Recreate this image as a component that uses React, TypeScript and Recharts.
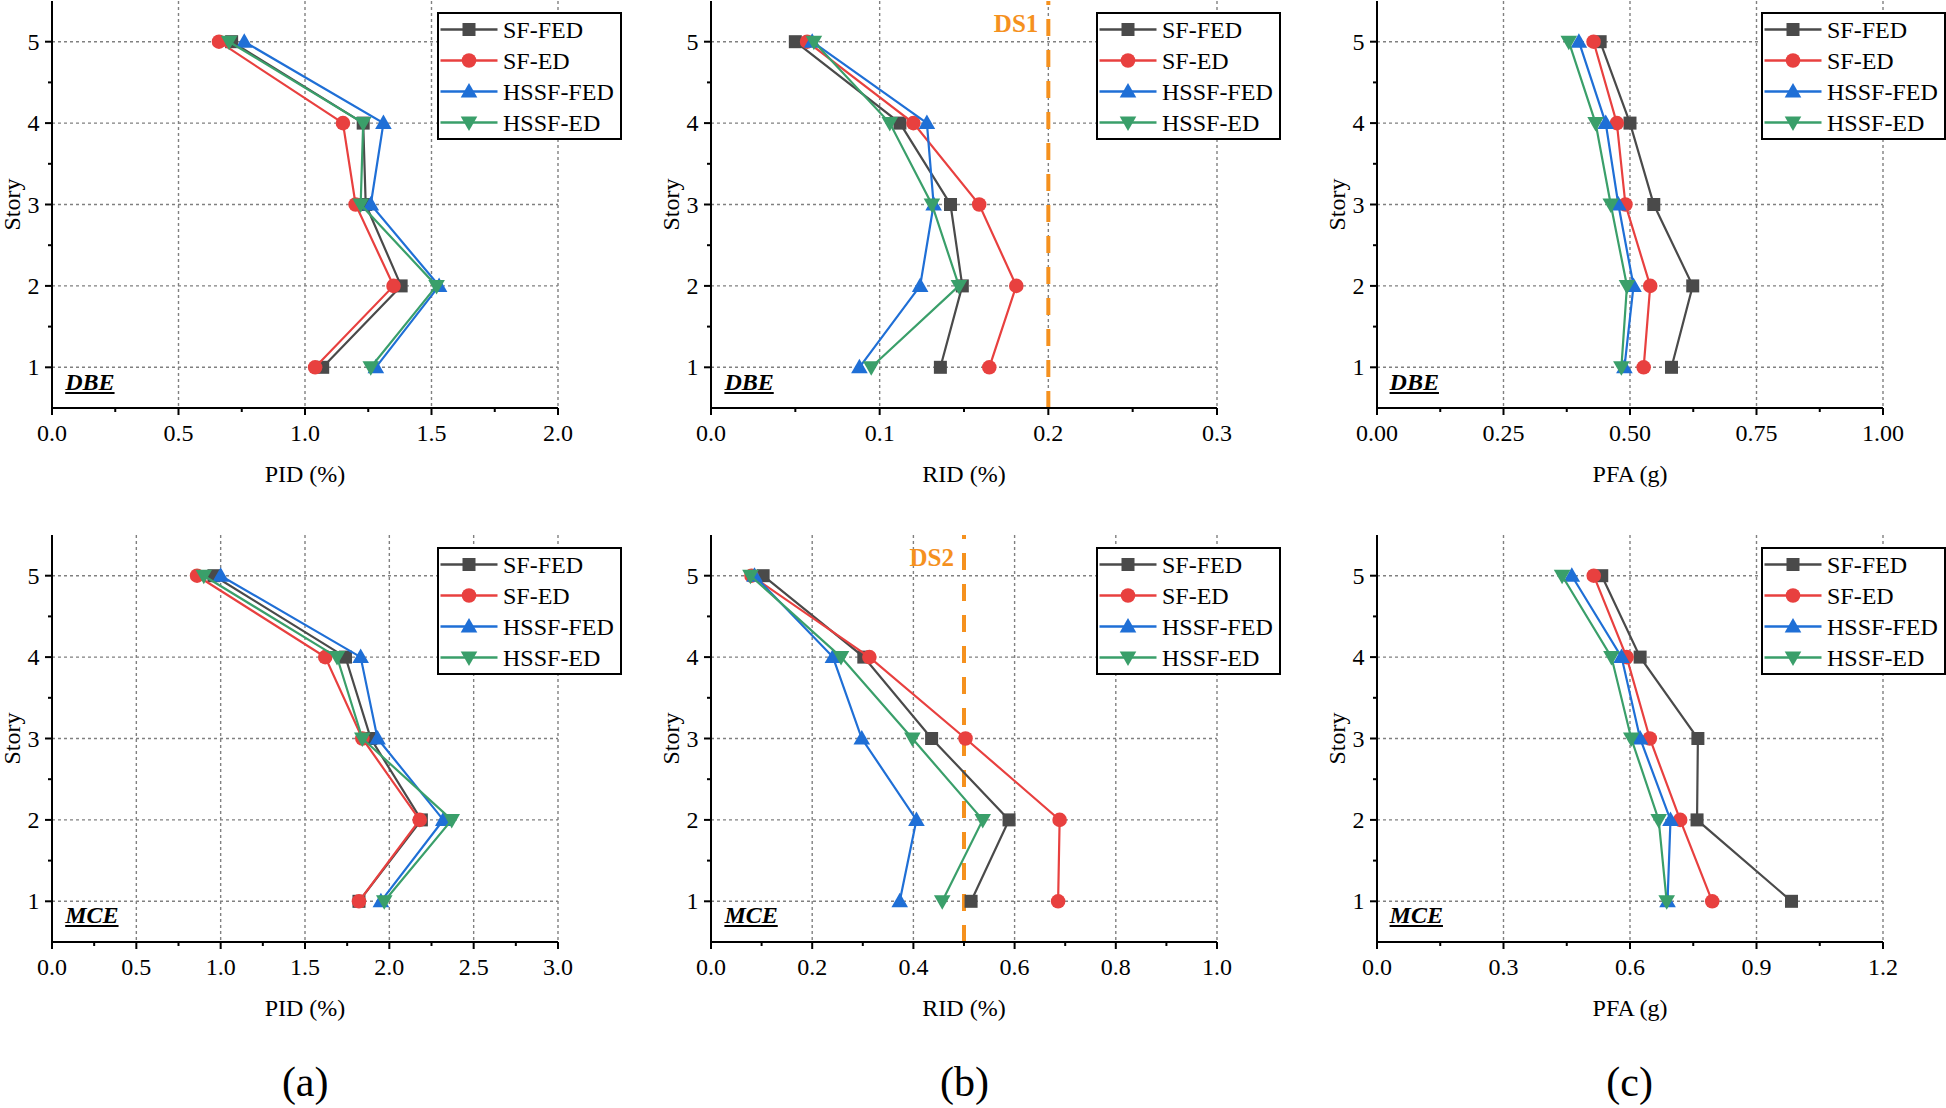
import React from 'react';
import { ScatterChart, Scatter, XAxis, YAxis, CartesianGrid, ReferenceLine, Legend, Label } from 'recharts';

const FONT = "'Liberation Serif', 'Times New Roman', serif";

const stories = [1, 2, 3, 4, 5];
const storyTicks = [1, 1.5, 2, 2.5, 3, 3.5, 4, 4.5, 5];
const seriesNames = ['SF-FED', 'SF-ED', 'HSSF-FED', 'HSSF-ED'];
const seriesColors = ['#4a4a4a', '#e8403f', '#1f6fd6', '#3a9f6a'];
const seriesMarkers = ['square', 'circle', 'triangle', 'triangleDown'];

// rows: SF-FED, SF-ED, HSSF-FED, HSSF-ED ; values for story 1..5
const pidDbe = [
  [1.07, 1.38, 1.24, 1.23, 0.71],
  [1.04, 1.35, 1.2, 1.15, 0.66],
  [1.28, 1.53, 1.26, 1.31, 0.76],
  [1.26, 1.52, 1.22, 1.23, 0.7],
];
const ridDbe = [
  [0.136, 0.149, 0.142, 0.112, 0.05],
  [0.165, 0.181, 0.159, 0.12, 0.057],
  [0.088, 0.124, 0.132, 0.128, 0.06],
  [0.095, 0.147, 0.131, 0.106, 0.061],
];
const pfaDbe = [
  [0.582, 0.624, 0.547, 0.5, 0.441],
  [0.527, 0.54, 0.491, 0.474, 0.428],
  [0.489, 0.507, 0.477, 0.452, 0.399],
  [0.483, 0.494, 0.462, 0.432, 0.379],
];
const pidMce = [
  [1.82, 2.19, 1.89, 1.74, 0.96],
  [1.82, 2.18, 1.84, 1.62, 0.86],
  [1.95, 2.32, 1.93, 1.83, 1.0],
  [1.97, 2.37, 1.84, 1.69, 0.9],
];
const ridMce = [
  [0.514, 0.589, 0.436, 0.302, 0.103],
  [0.686, 0.689, 0.503, 0.313, 0.08],
  [0.373, 0.406, 0.298, 0.241, 0.086],
  [0.457, 0.537, 0.398, 0.257, 0.078],
];
const pfaMce = [
  [0.983, 0.759, 0.761, 0.624, 0.533],
  [0.795, 0.719, 0.647, 0.592, 0.514],
  [0.689, 0.696, 0.624, 0.58, 0.462],
  [0.687, 0.668, 0.603, 0.556, 0.439],
];

const pidDbeTicks = [0, 0.5, 1.0, 1.5, 2.0];
const ridDbeTicks = [0, 0.1, 0.2, 0.3];
const pfaDbeTicks = [0, 0.25, 0.5, 0.75, 1.0];
const pidMceTicks = [0, 0.5, 1.0, 1.5, 2.0, 2.5, 3.0];
const ridMceTicks = [0, 0.2, 0.4, 0.6, 0.8, 1.0];
const pfaMceTicks = [0, 0.3, 0.6, 0.9, 1.2];

const colPlotLeft = [52.2, 711.4, 1376.6];
const rowPlotTop = [0.5, 535.3];

function Marker({ kind, cx, cy, color }: { kind: string; cx: number; cy: number; color: string }) {
  if (kind === 'square') return <rect x={cx - 6.5} y={cy - 6.5} width={13} height={13} fill={color} />;
  if (kind === 'circle') return <circle cx={cx} cy={cy} r={7.3} fill={color} />;
  if (kind === 'triangle')
    return <polygon points={`${cx},${cy - 8.5} ${cx + 8.3},${cy + 6} ${cx - 8.3},${cy + 6}`} fill={color} />;
  return <polygon points={`${cx - 8.3},${cy - 6} ${cx + 8.3},${cy - 6} ${cx},${cy + 8.5}`} fill={color} />;
}

const LegendBox = () => (
  <div style={{ width: 185, height: 128, border: '2px solid #000', background: '#fff', boxSizing: 'border-box' }}>
    <svg width={181} height={124} style={{ display: 'block' }}>
      {seriesNames.map((n, i) => {
        const y = 15.5 + i * 31;
        return (
          <g key={n}>
            <line x1={1.5} x2={58.5} y1={y} y2={y} stroke={seriesColors[i]} strokeWidth={2.5} />
            <Marker kind={seriesMarkers[i]} cx={30} cy={y} color={seriesColors[i]} />
            <text x={64} y={y + 8.5} fontSize={24} fontFamily={FONT} fill="#000">
              {n}
            </text>
          </g>
        );
      })}
    </svg>
  </div>
);

type PanelProps = {
  col: number;
  row: number;
  values: number[][];
  xTicks: number[];
  decimals: number;
  xTitle: string;
  tag: string;
  ds?: { x: number; label: string };
};

function Panel({ col, row, values, xTicks, decimals, xTitle, tag, ds }: PanelProps) {
  const PL = 100, PT = 10, PW = 506, PH = 407;
  const W = PL + PW + 100;
  const H = PT + PH + 100;
  const left = colPlotLeft[col] - PL;
  const top = rowPlotTop[row] - PT;
  const xMax = xTicks[xTicks.length - 1];
  const xMinor = xTicks.slice(1).map((v, i) => (v + xTicks[i]) / 2);
  const xAll = [...xTicks, ...xMinor].sort((a, b) => a - b);
  const isMajorX = (v: number) => xTicks.some((t) => Math.abs(t - v) < 1e-9);
  const isMajorY = (v: number) => stories.includes(v);

  const BottomTick = (p: any) => {
    const major = isMajorX(p.payload.value);
    return (
      <g>
        <line x1={p.x} x2={p.x} y1={p.y} y2={p.y + (major ? 7 : 4)} stroke="#000" strokeWidth={2} />
        {major && (
          <text x={p.x} y={p.y + 33} textAnchor="middle" fontSize={24} fontFamily={FONT} fill="#000">
            {p.payload.value.toFixed(decimals)}
          </text>
        )}
      </g>
    );
  };
  const TopTick = (p: any) => {
    const major = isMajorX(p.payload.value);
    return <line x1={p.x} x2={p.x} y1={p.y} y2={p.y + (major ? 7 : 4)} stroke="#000" strokeWidth={2} />;
  };
  const LeftTick = (p: any) => {
    const major = isMajorY(p.payload.value);
    return (
      <g>
        <line x1={p.x - (major ? 7 : 4)} x2={p.x} y1={p.y} y2={p.y} stroke="#000" strokeWidth={2} />
        {major && (
          <text x={p.x - 12.5} y={p.y + 8} textAnchor="end" fontSize={24} fontFamily={FONT} fill="#000">
            {p.payload.value}
          </text>
        )}
      </g>
    );
  };
  const RightTick = (p: any) => {
    const major = isMajorY(p.payload.value);
    return <line x1={p.x - (major ? 7 : 4)} x2={p.x} y1={p.y} y2={p.y} stroke="#000" strokeWidth={2} />;
  };

  const tagBaseline = row === 0 ? 390 : 923.3;

  return (
    <>
      <div style={{ position: 'absolute', left, top, width: W, height: H, fontFamily: FONT }}>
        <ScatterChart width={W} height={H} margin={{ top: PT, left: 18, right: 100, bottom: 0 }}>
          <CartesianGrid
            stroke="#808080"
            strokeWidth={1.4}
            strokeDasharray="3 3"
            horizontalValues={stories}
            verticalValues={xTicks}
          />
          <XAxis
            type="number"
            dataKey="x"
            domain={[0, xMax]}
            ticks={xAll}
            interval={0}
            allowDataOverflow
            height={100}
            tickSize={0}
            tickMargin={0}
            tickLine={false}
            tick={BottomTick}
            axisLine={{ stroke: '#000', strokeWidth: 2 }}
            label={{ value: xTitle, position: 'insideTop', offset: 56.5, fontSize: 24, fontFamily: FONT, fill: '#000' }}
          />
          <XAxis
            xAxisId="top"
            orientation="top"
            type="number"
            dataKey="x"
            domain={[0, xMax]}
            ticks={xAll}
            interval={0}
            allowDataOverflow
            height={0}
            tickSize={0}
            tickMargin={0}
            tickLine={false}
            tick={TopTick}
            axisLine={{ stroke: '#000', strokeWidth: 2 }}
          />
          <YAxis
            type="number"
            dataKey="y"
            domain={[0.5, 5.5]}
            ticks={storyTicks}
            interval={0}
            allowDataOverflow
            width={82}
            tickSize={0}
            tickMargin={0}
            tickLine={false}
            tick={LeftTick}
            axisLine={{ stroke: '#000', strokeWidth: 2 }}
            label={{ value: 'Story', angle: -90, position: 'center', fontSize: 24, fontFamily: FONT, fill: '#000' }}
          />
          <YAxis
            yAxisId="right"
            orientation="right"
            type="number"
            dataKey="y"
            domain={[0.5, 5.5]}
            ticks={storyTicks}
            interval={0}
            allowDataOverflow
            width={0}
            tickSize={0}
            tickMargin={0}
            tickLine={false}
            tick={RightTick}
            axisLine={{ stroke: '#000', strokeWidth: 2 }}
          />
          {ds && (
            <ReferenceLine
              x={ds.x}
              stroke="#f5911e"
              strokeWidth={4}
              strokeDasharray="17 14"
              label={
                <Label
                  content={(lp: any) => (
                    <text
                      x={lp.viewBox.x - 10}
                      y={lp.viewBox.y + 31}
                      textAnchor="end"
                      fontSize={25}
                      fontWeight="bold"
                      fontFamily={FONT}
                      fill="#f5911e"
                    >
                      {ds.label}
                    </text>
                  )}
                />
              }
            />
          )}
          {values.map((vals, si) => (
            <Scatter
              key={seriesNames[si]}
              name={seriesNames[si]}
              data={stories.map((s, i) => ({ x: vals[i], y: s }))}
              fill={seriesColors[si]}
              line={{ stroke: seriesColors[si], strokeWidth: 2.2 }}
              lineType="joint"
              shape={(p: any) => <Marker kind={seriesMarkers[si]} cx={p.cx} cy={p.cy} color={seriesColors[si]} />}
              isAnimationActive={false}
            />
          ))}
          <Legend
            layout="vertical"
            align="center"
            verticalAlign="middle"
            content={() => <LegendBox />}
            wrapperStyle={{ left: PL + PW - 121.7, top: 21.3, width: 185, height: 128, right: 'auto', bottom: 'auto' }}
          />
        </ScatterChart>
      </div>
      <div
        style={{
          position: 'absolute',
          left: colPlotLeft[col] + 13,
          top: tagBaseline - 20.1,
          fontFamily: FONT,
          fontSize: 24,
          lineHeight: '24px',
          fontWeight: 'bold',
          fontStyle: 'italic',
          textDecoration: 'underline',
          color: '#000',
          whiteSpace: 'nowrap',
        }}
      >
        {tag}
      </div>
    </>
  );
}

const captions = ['(a)', '(b)', '(c)'];

export default function App() {
  return (
    <div
      style={{
        position: 'absolute',
        left: 0,
        top: 0,
        width: 1946,
        height: 1108,
        overflow: 'hidden',
        background: '#fff',
        fontFamily: FONT,
      }}
    >
      <Panel col={0} row={0} values={pidDbe} xTicks={pidDbeTicks} decimals={1} xTitle="PID (%)" tag="DBE" />
      <Panel col={1} row={0} values={ridDbe} xTicks={ridDbeTicks} decimals={1} xTitle="RID (%)" tag="DBE" ds={{ x: 0.2, label: 'DS1' }} />
      <Panel col={2} row={0} values={pfaDbe} xTicks={pfaDbeTicks} decimals={2} xTitle="PFA (g)" tag="DBE" />
      <Panel col={0} row={1} values={pidMce} xTicks={pidMceTicks} decimals={1} xTitle="PID (%)" tag="MCE" />
      <Panel col={1} row={1} values={ridMce} xTicks={ridMceTicks} decimals={1} xTitle="RID (%)" tag="MCE" ds={{ x: 0.5, label: 'DS2' }} />
      <Panel col={2} row={1} values={pfaMce} xTicks={pfaMceTicks} decimals={1} xTitle="PFA (g)" tag="MCE" />
      {captions.map((c, i) => (
        <div
          key={c}
          style={{
            position: 'absolute',
            left: colPlotLeft[i] + 253 - 100,
            width: 200,
            top: 1061,
            textAlign: 'center',
            fontFamily: FONT,
            fontSize: 42,
            lineHeight: '42px',
            color: '#000',
          }}
        >
          {c}
        </div>
      ))}
    </div>
  );
}
